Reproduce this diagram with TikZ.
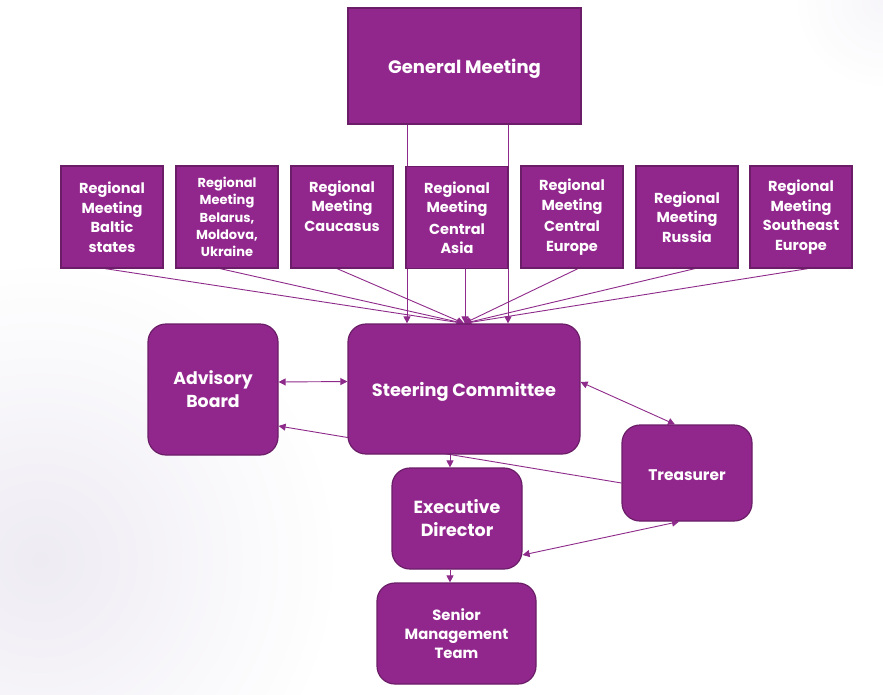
\documentclass[tikz,border=0pt]{standalone}
\usepackage{fontspec}
\setmainfont{Poppins}
\usetikzlibrary{arrows.meta}
\definecolor{boxfill}{HTML}{91278C}
\definecolor{boxline}{HTML}{6B1D68}
\definecolor{arrcol}{HTML}{8E2A8A}
\definecolor{haze}{HTML}{EEEBF3}
\pgfdeclarelayer{bg}
\pgfdeclarelayer{lines}
\pgfsetlayers{bg,lines,main}
\tikzset{
  sqbox/.style={draw=boxline, line width=1.2pt, fill=boxfill, text=white, align=center, inner sep=2pt},
  rbox/.style={sqbox, rounded corners=18pt},
  arr/.style={draw=arrcol, line width=0.9pt, -{Triangle[length=7pt,width=7pt]}},
  darr/.style={draw=arrcol, line width=0.9pt, {Triangle[length=7pt,width=7pt]}-{Triangle[length=7pt,width=7pt]}},
  regfont/.style={font=\bfseries\fontsize{14.5}{19.5}\selectfont},
}
\begin{document}
\begin{tikzpicture}[x=1pt,y=-1pt]
\useasboundingbox (0,0) rectangle (883,694);
\begin{pgfonlayer}{bg}
\begin{scope}
\clip (0,0) rectangle (883,694);
\fill[white] (0,0) rectangle (883,694);
\shade[inner color=haze, outer color=white] (40,560) circle (300pt);
\shade[inner color=haze!50, outer color=white] (883,0) circle (90pt);
\end{scope}
\end{pgfonlayer}

\node[sqbox, minimum width=233pt, minimum height=116pt, font=\bfseries\fontsize{18}{20}\selectfont] (gm) at (464.5,66) {\rule{0pt}{20pt}General Meeting};

\node[sqbox, minimum width=102pt, minimum height=102pt, regfont] (r1) at (112,217) {Regional\\Meeting\\Baltic\\states};
\node[sqbox, minimum width=102pt, minimum height=102pt, font=\bfseries\fontsize{13}{17.2}\selectfont] (r2) at (227,217) {Regional\\Meeting\\Belarus,\\Moldova,\\Ukraine};
\node[sqbox, minimum width=102pt, minimum height=102pt, regfont] (r3) at (342,217) {Regional\\Meeting\\Caucasus\rule[-22pt]{0pt}{0pt}};
\node[sqbox, minimum width=102pt, minimum height=102pt, regfont] (r4) at (457,217.5) {Regional\\Meeting\\[2pt]Central\\Asia};
\node[sqbox, minimum width=102pt, minimum height=102pt, regfont] (r5) at (572,217) {Regional\\Meeting\\[2pt]Central\\Europe};
\node[sqbox, minimum width=102pt, minimum height=102pt, regfont] (r6) at (687,217) {Regional\\Meeting\\Russia};
\node[sqbox, minimum width=102pt, minimum height=102pt, regfont] (r7) at (801,217) {Regional\\Meeting\\Southeast\\Europe};

\node[rbox, minimum width=232pt, minimum height=130pt, font=\bfseries\fontsize{17.7}{20}\selectfont] (sc) at (464,389) {\rule{0pt}{20pt}Steering Committee};
\node[rbox, minimum width=130pt, minimum height=131pt, font=\bfseries\fontsize{17.3}{23}\selectfont] (ab) at (213,389.5) {Advisory\\Board};
\node[rbox, minimum width=130pt, minimum height=96pt, font=\bfseries\fontsize{15.4}{20}\selectfont] (tr) at (687,473) {\rule{0pt}{16pt}Treasurer};
\node[rbox, minimum width=130pt, minimum height=101pt, font=\bfseries\fontsize{17.5}{23}\selectfont] (ed) at (457,518.5) {Executive\\Director};
\node[rbox, minimum width=159pt, minimum height=101pt, font=\bfseries\fontsize{14.8}{19}\selectfont] (smt) at (456.5,633.5) {Senior\\Management\\Team};

\begin{pgfonlayer}{lines}
\draw[arr] ([xshift=-57.5pt]gm.south) -- ([xshift=-57pt]sc.north);
\draw[arr] ([xshift=43.5pt]gm.south) -- ([xshift=44pt]sc.north);
\draw[arr] ([xshift=-7pt]r1.south) -- (sc.north);
\draw[arr] ([xshift=-7pt]r2.south) -- (sc.north);
\draw[arr] ([xshift=-5pt]r3.south) -- (sc.north);
\draw[arr] ([xshift=8pt]r4.south) -- ([xshift=1pt]sc.north);
\draw[arr] ([xshift=6pt]r5.south) -- (sc.north);
\draw[arr] ([xshift=8pt]r6.south) -- (sc.north);
\draw[arr] ([xshift=7pt]r7.south) -- (sc.north);
\draw[arr] ([yshift=-10pt]tr.west) -- ([yshift=-36.5pt]ab.east);
\end{pgfonlayer}

\draw[darr] ([yshift=7.5pt]ab.east) -- ([yshift=7.5pt]sc.west);
\draw[darr] ([yshift=7pt]sc.east) -- ([xshift=-12pt]tr.north);
\draw[arr] ([xshift=-14pt]sc.south) -- ([xshift=-7pt]ed.north);
\draw[arr] ([xshift=-7pt]ed.south) -- ([xshift=-6.5pt]smt.north);
\draw[darr] ([yshift=-36.5pt]ed.east) -- ([xshift=-8pt]tr.south);
\end{tikzpicture}
\end{document}
